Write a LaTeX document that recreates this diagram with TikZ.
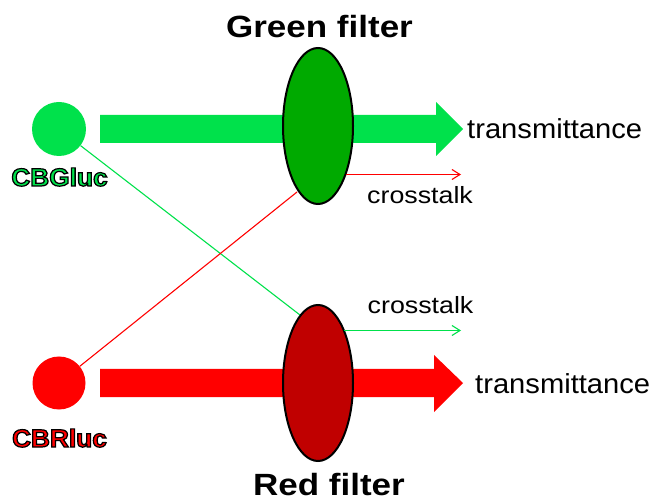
\documentclass[tikz,border=0pt]{standalone}
\usepackage{fontspec}
\setmainfont{Liberation Sans}
\usetikzlibrary{arrows.meta,shapes.geometric}
\definecolor{gl}{RGB}{0,225,75}
\definecolor{dg}{RGB}{0,170,0}
\definecolor{rl}{RGB}{255,0,0}
\definecolor{dr}{RGB}{192,0,0}
\newcommand\outl[1]{\special{pdf:literal direct 0 G 2 Tr 1.2 w}#1\special{pdf:literal direct 0 Tr 1 w}}
\newcommand\fsz[1]{\fontsize{#1}{#1}\selectfont}
\tikzset{
  lamp/.style={circle, inner sep=0pt, minimum size=#1},
  filt/.style={ellipse, draw=black, line width=2pt, inner sep=0pt, minimum width=70pt, minimum height=156pt},
  thin/.style={line width=1.1pt},
  tipped/.style={thin, -{Straight Barb[length=8pt,width=10pt,line width=1.1pt]}},
  lbl/.style={inner sep=0pt, text=black},
}
\begin{document}
\begin{tikzpicture}[x=1pt,y=-1pt]
\useasboundingbox (0,0) rectangle (653,502);
% lamps
\node[lamp=54pt, fill=gl] (gc) at (59,129) {};
\node[lamp=53pt, fill=rl] (rc) at (59,383) {};
% big arrows
\fill[gl] (100,115) -- (436,115) -- (436,102) -- (463,129) -- (436,156) -- (436,143) -- (100,143) -- cycle;
\fill[rl] (100,369) -- (434,369) -- (434,355) -- (463,383) -- (434,412) -- (434,397) -- (100,397) -- cycle;
% cross lines
\coordinate (gx) at (300,315);
\coordinate (rx) at (297,192);
\draw[gl, thin] (gc) -- (gx);
\draw[rl, thin] (rc) -- (rx);
% filters
\node[filt, fill=dg] (ge) at (318,126) {};
\node[filt, fill=dr] (re) at (318,383) {};
% crosstalk arrows
\coordinate (c1a) at (346,174.5);
\coordinate (c1b) at (461,174.5);
\coordinate (c2a) at (344,330.5);
\coordinate (c2b) at (461,330.5);
\draw[rl, tipped] (c1a) -- (c1b);
\draw[gl, tipped] (c2a) -- (c2b);
% texts
\node[lbl, anchor=base] (gt) at (319.5,38) {\fsz{30.7}\bfseries\scalebox{1.14}[1]{Green filter}};
\node[lbl, anchor=base] (rt) at (329,495) {\fsz{30.7}\bfseries\scalebox{1.14}[1]{Red filter}};
\node[lbl, anchor=base west] (t1) at (467,138.5) {\fsz{27.5}\scalebox{1.06}[1]{transmittance}};
\node[lbl, anchor=base west] (t2) at (475,393) {\fsz{27.5}\scalebox{1.06}[1]{transmittance}};
\node[lbl, anchor=base west] (x1) at (367,204) {\fsz{23.5}\scalebox{1.14}[1]{crosstalk}};
\node[lbl, anchor=base west] (x2) at (367.5,314) {\fsz{23.5}\scalebox{1.14}[1]{crosstalk}};
\node[lbl, anchor=base, text=gl] (gn) at (59.5,186) {\fsz{25}\bfseries\scalebox{1.05}[1]{\outl{CBGluc}}};
\node[lbl, anchor=base, text=rl] (rn) at (59.5,447) {\fsz{25}\bfseries\scalebox{1.05}[1]{\outl{CBRluc}}};
\end{tikzpicture}
\end{document}
